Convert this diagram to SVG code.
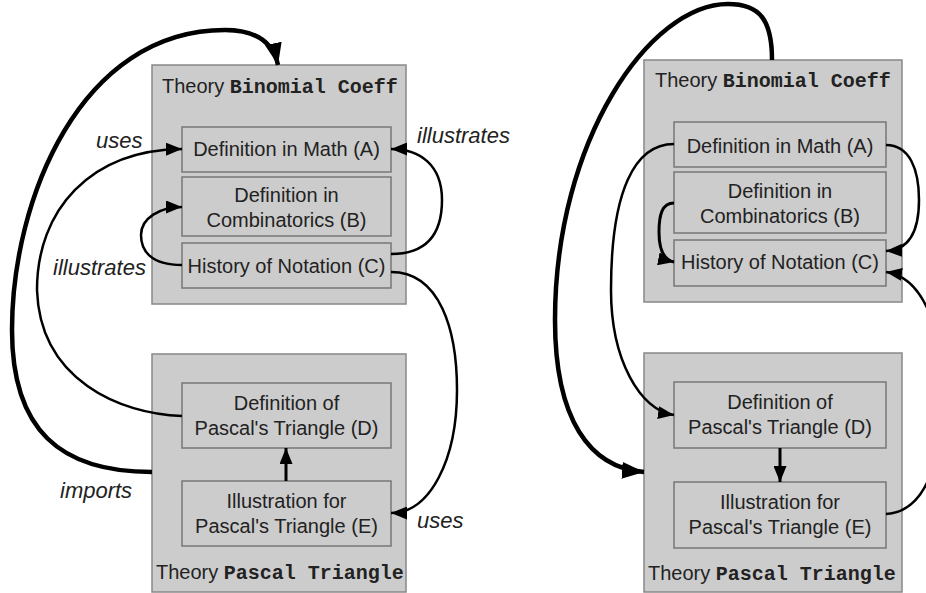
<svg xmlns="http://www.w3.org/2000/svg" width="926" height="593" viewBox="0 0 926 593">
  <style>
    .theory { fill: #cccccc; stroke: #888888; stroke-width: 1.5; }
    .node { fill: #cccccc; stroke: #777777; stroke-width: 1.5; }
    text { font-family: "Liberation Sans", Arial, sans-serif; font-size: 20px; fill: #222222; }
    .mid { text-anchor: middle; }
    .mono { font-family: "Liberation Mono", "Courier New", monospace; font-weight: bold; }
    .label { font-style: italic; font-size: 22px; }
    .edge { fill: none; stroke: #000000; stroke-width: 2.5; }
    .mid-edge { fill: none; stroke: #000000; stroke-width: 3; }
    .thick { fill: none; stroke: #000000; stroke-width: 4.5; }
  </style>
  <defs>
    <marker id="arrow" markerUnits="userSpaceOnUse" markerWidth="16" markerHeight="13" refX="16" refY="6.5" orient="auto">
      <path d="M0,0 L16,6.5 L0,13 z" fill="#000000"/>
    </marker>
    <marker id="arrow-big" markerUnits="userSpaceOnUse" markerWidth="22" markerHeight="17" refX="22" refY="8.5" orient="auto">
      <path d="M0,0 L22,8.5 L0,17 z" fill="#000000"/>
    </marker>
  </defs>

  <!-- Left variant: theory Binomial Coeff -->
  <g id="left-binomial">
    <rect class="theory" x="152" y="65" width="254" height="239"/>
    <text x="162" y="93">Theory <tspan class="mono">Binomial Coeff</tspan></text>
  </g>
  <g id="left-A">
    <rect class="node" x="182" y="127" width="209" height="45"/>
    <text class="mid" x="286.5" y="156">Definition in Math (A)</text>
  </g>
  <g id="left-B">
    <rect class="node" x="182" y="177" width="209" height="59"/>
    <text class="mid" x="286.5" y="201.5">Definition in</text>
    <text class="mid" x="286.5" y="226.5">Combinatorics (B)</text>
  </g>
  <g id="left-C">
    <rect class="node" x="182" y="243" width="209" height="45"/>
    <text class="mid" x="286.5" y="273">History of Notation (C)</text>
  </g>

  <!-- Left variant: theory Pascal Triangle -->
  <g id="left-pascal">
    <rect class="theory" x="152" y="354" width="254" height="238"/>
    <text x="156" y="579">Theory <tspan class="mono">Pascal Triangle</tspan></text>
  </g>
  <g id="left-D">
    <rect class="node" x="182" y="383" width="209" height="65"/>
    <text class="mid" x="286.5" y="410">Definition of</text>
    <text class="mid" x="286.5" y="435">Pascal's Triangle (D)</text>
  </g>
  <g id="left-E">
    <rect class="node" x="182" y="481" width="209" height="65"/>
    <text class="mid" x="286.5" y="508">Illustration for</text>
    <text class="mid" x="286.5" y="533">Pascal's Triangle (E)</text>
  </g>

  <!-- Right variant: theory Binomial Coeff -->
  <g id="right-binomial">
    <rect class="theory" x="644" y="60" width="258" height="242"/>
    <text x="655" y="87">Theory <tspan class="mono">Binomial Coeff</tspan></text>
  </g>
  <g id="right-A">
    <rect class="node" x="674" y="122" width="212" height="45"/>
    <text class="mid" x="780" y="153">Definition in Math (A)</text>
  </g>
  <g id="right-B">
    <rect class="node" x="674" y="172" width="212" height="61"/>
    <text class="mid" x="780" y="198">Definition in</text>
    <text class="mid" x="780" y="222.5">Combinatorics (B)</text>
  </g>
  <g id="right-C">
    <rect class="node" x="674" y="240" width="212" height="46"/>
    <text class="mid" x="780" y="269">History of Notation (C)</text>
  </g>

  <!-- Right variant: theory Pascal Triangle -->
  <g id="right-pascal">
    <rect class="theory" x="644" y="353" width="258" height="239"/>
    <text x="648" y="580">Theory <tspan class="mono">Pascal Triangle</tspan></text>
  </g>
  <g id="right-D">
    <rect class="node" x="674" y="382" width="212" height="66"/>
    <text class="mid" x="780" y="409">Definition of</text>
    <text class="mid" x="780" y="434">Pascal's Triangle (D)</text>
  </g>
  <g id="right-E">
    <rect class="node" x="674" y="482" width="212" height="66"/>
    <text class="mid" x="780" y="509">Illustration for</text>
    <text class="mid" x="780" y="534">Pascal's Triangle (E)</text>
  </g>

  <!-- Connectors -->
  <g id="connectors">
    <!-- left: imports (Pascal Triangle -> Binomial Coeff) -->
    <path class="thick" marker-end="url(#arrow-big)" d="M152,472 C60,472 12,430 12,330 C12,200 80,30 225,30 C255,30 273,42 278,65"/>
    <!-- left: D uses A -->
    <path class="edge" marker-end="url(#arrow)" d="M182,416 C120,414 40,380 37,290 C37,210 90,150 182,149"/>
    <!-- left: C illustrates B -->
    <path class="edge" marker-end="url(#arrow)" d="M182,265 C150,265 141,250 141,235 C141,218 160,207 182,207"/>
    <!-- left: C illustrates A -->
    <path class="edge" marker-end="url(#arrow)" d="M391,254 C430,254 442,230 442,200 C442,165 420,149 391,149"/>
    <!-- left: C uses E -->
    <path class="edge" marker-end="url(#arrow)" d="M391,272 C440,272 457,330 457,390 C457,460 430,513 391,513"/>
    <!-- left: E -> D -->
    <path class="mid-edge" marker-end="url(#arrow)" d="M286,481 L286,448"/>

    <!-- right: Binomial Coeff -> Pascal Triangle -->
    <path class="thick" marker-end="url(#arrow-big)" d="M772,60 C772,20 760,4 728,4 C650,4 555,140 555,320 C555,420 590,468 644,472"/>
    <!-- right: A -> D -->
    <path class="edge" marker-end="url(#arrow)" d="M674,144 C635,144 611,190 611,290 C611,360 640,410 674,415"/>
    <!-- right: B -> C -->
    <path class="mid-edge" marker-end="url(#arrow)" d="M674,203 C662,203 659,215 659,232 C659,250 664,260 674,262"/>
    <!-- right: A -> C -->
    <path class="edge" marker-end="url(#arrow)" d="M886,145 C910,145 919,170 919,200 C919,230 910,250 886,251"/>
    <!-- right: E -> C (runs past the right edge) -->
    <path class="edge" marker-end="url(#arrow)" d="M886,514 C922,512 942,470 942,395 C942,320 920,277 886,272"/>
    <!-- right: D -> E -->
    <path class="mid-edge" marker-end="url(#arrow)" d="M780,448 L780,482"/>

    <!-- edge labels -->
    <text class="label" x="96" y="148">uses</text>
    <text class="label" x="53" y="275">illustrates</text>
    <text class="label" x="417" y="143">illustrates</text>
    <text class="label" x="60" y="498">imports</text>
    <text class="label" x="417" y="528">uses</text>
  </g>
</svg>
